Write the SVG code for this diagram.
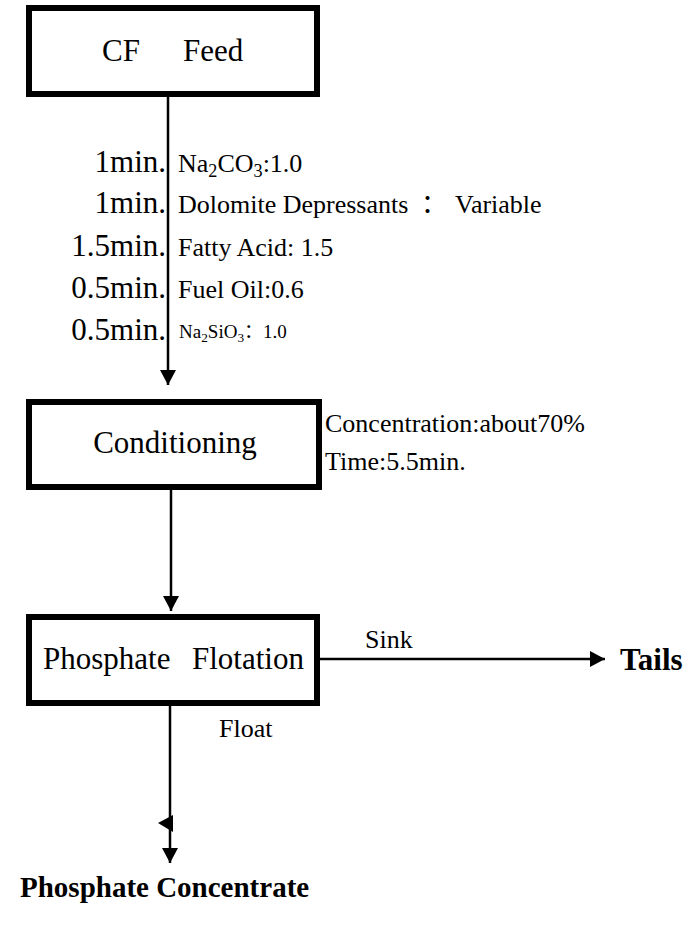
<svg xmlns="http://www.w3.org/2000/svg" width="688" height="938" viewBox="0 0 688 938">
  <style>
    .box { fill: #fff; stroke: #000; stroke-width: 6; }
    .t { font-family: 'Liberation Serif', 'Times New Roman', 'DejaVu Serif', serif; fill: #000; }
    .cjk { font-family: 'Noto Sans CJK SC', sans-serif; }
    .big { font-size: 31px; }
    .mid { font-size: 26px; }
    .sm { font-size: 19px; }
    .b { font-weight: bold; }
    .ln { stroke: #000; stroke-width: 2.5; fill: none; }
    .sub { font-size: 70%; }
  </style>
  <defs>
    <marker id="ah" markerWidth="16" markerHeight="16" viewBox="0 0 16 16" refX="15" refY="8" orient="auto" markerUnits="userSpaceOnUse">
      <path d="M0,0 L15,8 L0,16 Z" fill="#000"/>
    </marker>
  </defs>

  <!-- connectors -->
  <g id="connectors">
    <line class="ln" x1="168" y1="97" x2="168" y2="385" marker-end="url(#ah)"/>
    <line class="ln" x1="171" y1="490" x2="171" y2="611" marker-end="url(#ah)"/>
    <line class="ln" x1="320" y1="659" x2="605" y2="659" marker-end="url(#ah)"/>
    <line class="ln" x1="170" y1="706" x2="170" y2="863" marker-end="url(#ah)"/>
    <polygon points="158,823 173,815 173,832" fill="#000"/>
  </g>

  <!-- process steps -->
  <g id="cf-feed">
    <rect class="box" x="29" y="8" width="288" height="86"/>
    <text class="t big" y="61"><tspan x="102">CF</tspan><tspan x="183">Feed</tspan></text>
  </g>

  <g id="conditioning">
    <rect class="box" x="29" y="402" width="290" height="85"/>
    <text class="t big" x="175" y="453" text-anchor="middle">Conditioning</text>
  </g>

  <g id="flotation">
    <rect class="box" x="29" y="617" width="288" height="86"/>
    <text class="t big" y="669"><tspan x="43">Phosphate</tspan><tspan x="192">Flotation</tspan></text>
  </g>

  <g id="tails">
    <text class="t big b" x="620" y="670">Tails</text>
  </g>

  <g id="concentrate">
    <text class="t b" style="font-size:29px" x="20" y="897">Phosphate Concentrate</text>
  </g>

  <!-- reagent additions along the feed line -->
  <g id="reagents">
    <text class="t big" x="166" y="172" text-anchor="end">1min.</text>
    <text class="t big" x="166" y="213" text-anchor="end">1min.</text>
    <text class="t big" x="166" y="256" text-anchor="end">1.5min.</text>
    <text class="t big" x="166" y="298" text-anchor="end">0.5min.</text>
    <text class="t big" x="166" y="340" text-anchor="end">0.5min.</text>

    <text class="t mid" x="178" y="172">Na<tspan class="sub" dy="5">2</tspan><tspan dy="-5">CO</tspan><tspan class="sub" dy="5">3</tspan><tspan dy="-5">:1.0</tspan></text>
    <text class="t mid" x="178" y="213">Dolomite Depressants<tspan class="cjk" x="421">：</tspan><tspan x="455">Variable</tspan></text>
    <text class="t mid" x="178" y="256">Fatty Acid: 1.5</text>
    <text class="t mid" x="178" y="298">Fuel Oil:0.6</text>
    <text class="t sm" x="179" y="338">Na<tspan class="sub" dy="4">2</tspan><tspan dy="-4">SiO</tspan><tspan class="sub" dy="4">3</tspan><tspan class="cjk" dy="-4">：</tspan><tspan x="263">1.0</tspan></text>
  </g>

  <!-- conditioning parameters -->
  <g id="conditions">
    <text class="t mid" x="325" y="432">Concentration:about70%</text>
    <text class="t mid" x="325" y="470">Time:5.5min.</text>
  </g>

  <!-- stream labels -->
  <g id="stream-labels">
    <text class="t mid" x="365" y="648">Sink</text>
    <text class="t mid" x="219" y="737">Float</text>
  </g>
</svg>
